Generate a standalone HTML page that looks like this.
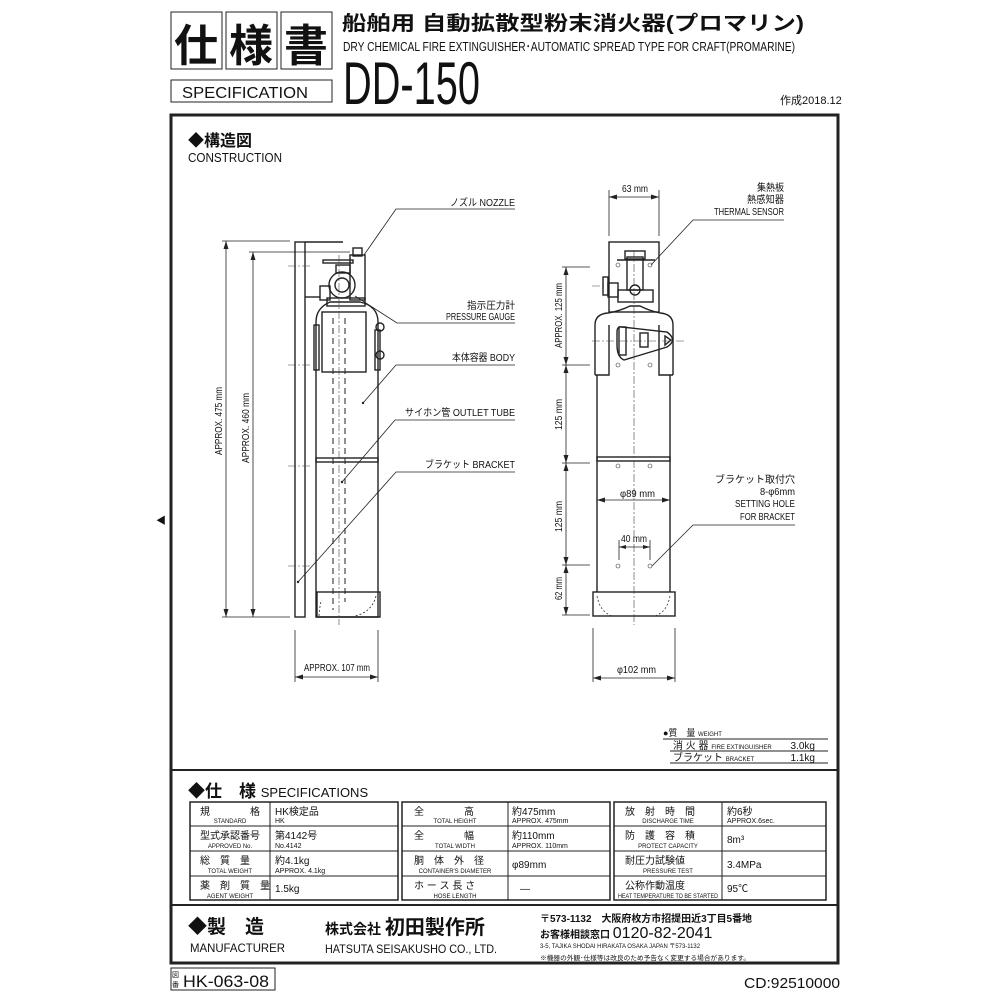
<!DOCTYPE html>
<html><head><meta charset="utf-8"><style>
html,body{margin:0;padding:0;background:#fff;}
svg{display:block;}
text{font-family:"Liberation Sans Narrow","Liberation Sans","Noto Sans CJK JP",sans-serif;fill:#111;}
.j{font-family:"Liberation Sans","Noto Sans CJK JP",sans-serif;}
</style></head><body>
<svg width="1000" height="1000" viewBox="0 0 1000 1000" xmlns="http://www.w3.org/2000/svg">
<g fill="none" stroke="#222">
<rect x="171" y="12" width="51" height="57" stroke-width="1"/>
<rect x="226" y="12" width="51" height="57" stroke-width="1"/>
<rect x="281" y="12" width="51" height="57" stroke-width="1"/>
<rect x="171" y="80" width="161" height="22" stroke-width="1"/>
<path d="M171 115 H838 V963 H171 Z" stroke-width="3"/>
<line x1="171" y1="770" x2="838" y2="770" stroke-width="2"/>
<line x1="171" y1="905" x2="838" y2="905" stroke-width="2"/>
<rect x="171" y="968" width="104" height="22" stroke-width="1"/>
</g>
<text x="196" y="61" font-size="44" class="j" text-anchor="middle" font-weight="bold">仕</text>
<text x="251" y="61" font-size="44" class="j" text-anchor="middle" font-weight="bold">様</text>
<text x="306" y="61" font-size="44" class="j" text-anchor="middle" font-weight="bold">書</text>
<text x="182" y="98" font-size="16" textLength="126" lengthAdjust="spacingAndGlyphs">SPECIFICATION</text>
<text x="342" y="30" font-size="20" class="j" font-weight="bold" textLength="462" lengthAdjust="spacingAndGlyphs">船舶用 自動拡散型粉末消火器(プロマリン)</text>
<text x="343" y="51" font-size="13" textLength="452" lengthAdjust="spacingAndGlyphs">DRY CHEMICAL FIRE EXTINGUISHER･AUTOMATIC SPREAD TYPE FOR CRAFT(PROMARINE)</text>
<text x="343" y="104" font-size="60" textLength="137" lengthAdjust="spacingAndGlyphs">DD-150</text>
<text x="780" y="104" font-size="11" class="j">作成2018.12</text>
<text x="156" y="524" font-size="10">◀</text>

<text x="188" y="146" font-size="16" class="j" font-weight="bold">◆構造図</text>
<text x="188" y="162" font-size="13" textLength="94" lengthAdjust="spacingAndGlyphs">CONSTRUCTION</text>

<!-- LEFT DRAWING -->
<g fill="none" stroke="#222" stroke-width="1.4">
<rect x="295" y="242" width="10" height="375"/>
<line x1="305" y1="242" x2="343" y2="242"/>
<line x1="305" y1="297" x2="320" y2="297"/>
<path d="M316 617 V322 Q316 308 330 302 H360 Q378 306 378 322 V617 Z"/>
<rect x="322" y="312" width="44" height="60"/>
<rect x="317" y="592" width="63" height="25"/>
<path d="M319 616 Q320 602 322 600" stroke-width="0.8" stroke-dasharray="2 2"/>
<path d="M376 596 Q372 612 355 616" stroke-width="0.8" stroke-dasharray="2 2"/>
<rect x="316" y="458" width="62" height="4"/>
<rect x="314" y="325" width="5" height="45"/>
<rect x="375" y="330" width="5" height="40"/>
<circle cx="380" cy="327" r="4"/><circle cx="380" cy="355" r="4"/>
<rect x="327" y="298" width="38" height="8"/>
<rect x="320" y="286" width="10" height="14"/>
<circle cx="342" cy="285" r="13"/>
<circle cx="342" cy="285" r="7"/>
<rect x="336" y="265" width="14" height="8"/>
<rect x="323" y="260" width="30" height="3"/>
<rect x="350" y="255" width="15" height="45"/>
<rect x="353" y="248" width="9" height="8"/>
</g>
<g stroke="#222" stroke-width="1" stroke-dasharray="6 4" fill="none">
<line x1="333" y1="318" x2="333" y2="610"/>
<line x1="345" y1="318" x2="345" y2="602"/>
</g>
<g stroke="#444" stroke-width="0.6" stroke-dasharray="8 2 2 2" fill="none">
<line x1="339" y1="255" x2="339" y2="625"/>
<line x1="288" y1="266" x2="310" y2="266"/>
<line x1="288" y1="365" x2="310" y2="365"/>
<line x1="288" y1="466" x2="310" y2="466"/>
<line x1="288" y1="566" x2="310" y2="566"/>
</g>
<g stroke="#222" stroke-width="0.8" fill="none">
<line x1="222" y1="241" x2="290" y2="241"/>
<line x1="249" y1="252" x2="350" y2="252"/>
<line x1="222" y1="617" x2="290" y2="617"/>
<line x1="226" y1="241" x2="226" y2="617"/>
<line x1="253" y1="252" x2="253" y2="617"/>
<line x1="295" y1="630" x2="295" y2="682"/>
<line x1="378" y1="630" x2="378" y2="682"/>
<line x1="295" y1="677" x2="378" y2="677"/>
</g>
<g fill="#222">
<path d="M226 241 l-2.5 8 h5z M226 617 l-2.5 -8 h5z M253 252 l-2.5 8 h5z M253 617 l-2.5 -8 h5z M295 677 l8 -2.5 v5z M378 677 l-8 -2.5 v5z"/>
</g>
<text transform="translate(222 455) rotate(-90)" font-size="10" textLength="68" lengthAdjust="spacingAndGlyphs">APPROX. 475 mm</text>
<text transform="translate(249 463) rotate(-90)" font-size="10" textLength="70" lengthAdjust="spacingAndGlyphs">APPROX. 460 mm</text>
<text x="304" y="671" font-size="10" textLength="66" lengthAdjust="spacingAndGlyphs">APPROX. 107 mm</text>
<g stroke="#222" stroke-width="0.8" fill="none">
<path d="M515 209 H396 L364 255"/>
<path d="M515 323 H397 L355 296"/>
<path d="M515 365 H396 L363 403"/>
<path d="M515 420 H395 L342 482"/>
<path d="M515 472 H396 L298 582"/>
</g>
<circle cx="363" cy="403" r="1.2" fill="#222"/><circle cx="342" cy="482" r="1.2" fill="#222"/><circle cx="298" cy="582" r="1.2" fill="#222"/>
<g font-size="10">
<text x="450" y="206" class="j" textLength="65" lengthAdjust="spacingAndGlyphs">ノズル NOZZLE</text>
<text x="467" y="309" class="j" textLength="48" lengthAdjust="spacingAndGlyphs">指示圧力計</text>
<text x="446" y="320" textLength="69" lengthAdjust="spacingAndGlyphs">PRESSURE GAUGE</text>
<text x="452" y="361" class="j" textLength="63" lengthAdjust="spacingAndGlyphs">本体容器 BODY</text>
<text x="405" y="416" class="j" textLength="110" lengthAdjust="spacingAndGlyphs">サイホン管 OUTLET TUBE</text>
<text x="425" y="468" class="j" textLength="90" lengthAdjust="spacingAndGlyphs">ブラケット BRACKET</text>
</g>

<!-- RIGHT DRAWING -->
<g fill="none" stroke="#222" stroke-width="1.4">
<rect x="609" y="242" width="50" height="70"/>
<path d="M595 375 V325 Q595 314 608 313 Q620 311 630 306 H640 Q650 311 660 313 Q673 314 673 325 V375"/>
<path d="M597 375 V592 M670 375 V592"/>
<path d="M595 375 H609 V325 M673 375 H659 V325"/>
<rect x="597" y="457" width="73" height="4"/>
<rect x="593" y="592" width="82" height="24"/>
<path d="M597 596 Q600 612 612 616 M670 596 Q667 612 655 616" stroke-width="0.7" stroke-dasharray="2 2"/>
<path d="M622 327 L667 332 Q678 340 667 347 L624 360 Q617 357 617 345 V332 Q617 326 622 327Z"/>
<rect x="640" y="333" width="8" height="14"/>
<path d="M665 336 L671 340 L665 345 Z"/>
<rect x="619" y="327" width="7" height="28"/>
<rect x="618" y="290" width="35" height="12"/>
<rect x="627" y="257" width="16" height="33"/>
<rect x="625" y="251" width="20" height="8"/>
<circle cx="635" cy="290" r="5"/>
<path d="M617 260 H655"/>
<rect x="603" y="277" width="5" height="18"/>
<rect x="608" y="283" width="10" height="14"/>
</g>
<g stroke="#444" stroke-width="0.6" stroke-dasharray="8 2 2 2" fill="none">
<line x1="634" y1="250" x2="634" y2="625"/>
<line x1="592" y1="341" x2="684" y2="341"/>
<line x1="592" y1="286" x2="605" y2="286"/>
</g>
<g stroke="#333" stroke-width="0.6" fill="none">
<circle cx="618" cy="265" r="2"/><circle cx="650" cy="265" r="2"/>
<circle cx="618" cy="365" r="2"/><circle cx="650" cy="365" r="2"/>
<circle cx="618" cy="466" r="2"/><circle cx="650" cy="466" r="2"/>
<circle cx="618" cy="566" r="2"/><circle cx="650" cy="566" r="2"/>
</g>
<g stroke="#222" stroke-width="0.8" fill="none">
<line x1="609" y1="190" x2="609" y2="236"/>
<line x1="659" y1="190" x2="659" y2="236"/>
<line x1="609" y1="197" x2="659" y2="197"/>
<line x1="566" y1="267" x2="566" y2="615"/>
<line x1="562" y1="267" x2="590" y2="267"/>
<line x1="562" y1="365" x2="590" y2="365"/>
<line x1="562" y1="463" x2="590" y2="463"/>
<line x1="562" y1="565" x2="590" y2="565"/>
<line x1="562" y1="615" x2="590" y2="615"/>
<line x1="597" y1="500" x2="670" y2="500"/>
<line x1="619" y1="540" x2="619" y2="560"/>
<line x1="650" y1="540" x2="650" y2="560"/>
<line x1="619" y1="547" x2="650" y2="547"/>
<line x1="593" y1="628" x2="593" y2="682"/>
<line x1="675" y1="628" x2="675" y2="682"/>
<line x1="593" y1="678" x2="675" y2="678"/>
</g>
<g fill="#222">
<path d="M609 197 l8 -2.5 v5z M659 197 l-8 -2.5 v5z M597 500 l8 -2.5 v5z M670 500 l-8 -2.5 v5z M619 547 l7 -2 v4z M650 547 l-7 -2 v4z M593 678 l8 -2.5 v5z M675 678 l-8 -2.5 v5z
M566 267 l-2.5 8 h5z M566 365 l-2.5 -8 h5z M566 365 l-2.5 8 h5z M566 463 l-2.5 -8 h5z M566 463 l-2.5 8 h5z M566 565 l-2.5 -8 h5z M566 565 l-2.5 8 h5z M566 615 l-2.5 -8 h5z"/>
</g>
<text x="622" y="192" font-size="10" textLength="26" lengthAdjust="spacingAndGlyphs">63 mm</text>
<text x="620" y="497" font-size="10" textLength="35" lengthAdjust="spacingAndGlyphs">φ89 mm</text>
<text x="621" y="542" font-size="10" textLength="26" lengthAdjust="spacingAndGlyphs">40 mm</text>
<text x="617" y="673" font-size="10" textLength="39" lengthAdjust="spacingAndGlyphs">φ102 mm</text>
<text transform="translate(562 348) rotate(-90)" font-size="10" textLength="65" lengthAdjust="spacingAndGlyphs">APPROX. 125 mm</text>
<text transform="translate(562 430) rotate(-90)" font-size="10" textLength="31" lengthAdjust="spacingAndGlyphs">125 mm</text>
<text transform="translate(562 532) rotate(-90)" font-size="10" textLength="31" lengthAdjust="spacingAndGlyphs">125 mm</text>
<text transform="translate(562 600) rotate(-90)" font-size="10" textLength="23" lengthAdjust="spacingAndGlyphs">62 mm</text>
<g stroke="#222" stroke-width="0.8" fill="none">
<path d="M784 220 H693 L651 265"/>
<path d="M795 525 H693 L652 566"/>
</g>
<g font-size="10">
<text x="757" y="191" class="j" textLength="27" lengthAdjust="spacingAndGlyphs">集熱板</text>
<text x="747" y="203" class="j" textLength="37" lengthAdjust="spacingAndGlyphs">熱感知器</text>
<text x="714" y="215" textLength="70" lengthAdjust="spacingAndGlyphs">THERMAL SENSOR</text>
<text x="715" y="483" class="j" textLength="80" lengthAdjust="spacingAndGlyphs">ブラケット取付穴</text>
<text x="760" y="495" textLength="35" lengthAdjust="spacingAndGlyphs">8-φ6mm</text>
<text x="735" y="507" textLength="60" lengthAdjust="spacingAndGlyphs">SETTING HOLE</text>
<text x="740" y="520" textLength="55" lengthAdjust="spacingAndGlyphs">FOR BRACKET</text>
</g>

<g stroke="#222" stroke-width="0.9">
<line x1="663" y1="739" x2="828" y2="739"/>
<line x1="670" y1="751" x2="828" y2="751"/>
<line x1="670" y1="763" x2="828" y2="763"/>
</g>
<text x="663" y="736" font-size="9" class="j">●質　量 <tspan font-size="6">WEIGHT</tspan></text>
<text x="673" y="749" font-size="10" class="j">消 火 器 <tspan font-size="6">FIRE EXTINGUISHER</tspan></text>
<text x="815" y="749" font-size="10" text-anchor="end">3.0kg</text>
<text x="673" y="761" font-size="10" class="j">ブラケット <tspan font-size="6">BRACKET</tspan></text>
<text x="815" y="761" font-size="10" text-anchor="end">1.1kg</text>

<text x="188" y="797" font-size="17" class="j" font-weight="bold">◆仕　様 <tspan font-size="13" font-weight="normal" font-family="Liberation Sans Narrow, Liberation Sans, sans-serif">SPECIFICATIONS</tspan></text>
<g fill="none" stroke="#222" stroke-width="1">
<rect x="190" y="802" width="208" height="98" stroke-width="1.5"/>
<rect x="402" y="802" width="208" height="98" stroke-width="1.5"/>
<rect x="614" y="802" width="212" height="98" stroke-width="1.5"/>
<line x1="270" y1="802" x2="270" y2="900"/><line x1="508" y1="802" x2="508" y2="900"/><line x1="722" y1="802" x2="722" y2="900"/>
<path d="M190 826 H398 M190 851 H398 M190 876 H398 M402 826 H610 M402 851 H610 M402 876 H610 M614 826 H826 M614 851 H826 M614 876 H826"/>
</g>
<g font-size="10" class="j">
<text x="200" y="815">規　　　　格</text>
<text x="275" y="815">HK検定品</text>
<text x="200" y="839">型式承認番号</text>
<text x="275" y="839">第4142号</text>
<text x="200" y="864">総　質　量</text>
<text x="275" y="864">約4.1kg</text>
<text x="200" y="889">薬　剤　質　量</text>
<text x="275" y="892">1.5kg</text>
<text x="414" y="815">全　　　　高</text>
<text x="512" y="815">約475mm</text>
<text x="414" y="839">全　　　　幅</text>
<text x="512" y="839">約110mm</text>
<text x="414" y="864">胴　体　外　径</text>
<text x="512" y="868">φ89mm</text>
<text x="414" y="889">ホ ー ス 長 さ</text>
<text x="520" y="892">—</text>
<text x="625" y="815">放　射　時　間</text>
<text x="727" y="815">約6秒</text>
<text x="625" y="839">防　護　容　積</text>
<text x="727" y="843">8m³</text>
<text x="625" y="864">耐圧力試験値</text>
<text x="727" y="868">3.4MPa</text>
<text x="625" y="889">公称作動温度</text>
<text x="727" y="892">95℃</text>
</g>
<g font-size="6" text-anchor="middle">
<text x="230" y="823">STANDARD</text><text x="230" y="848">APPROVED No.</text><text x="230" y="873">TOTAL WEIGHT</text><text x="230" y="898">AGENT WEIGHT</text>
<text x="455" y="823">TOTAL HEIGHT</text><text x="455" y="848">TOTAL WIDTH</text><text x="455" y="873">CONTAINER'S DIAMETER</text><text x="455" y="898">HOSE LENGTH</text>
<text x="668" y="823">DISCHARGE TIME</text><text x="668" y="848">PROTECT CAPACITY</text><text x="668" y="873">PRESSURE TEST</text><text x="668" y="898" textLength="100" lengthAdjust="spacingAndGlyphs">HEAT TEMPERATURE TO BE STARTED</text>
</g>
<g font-size="7">
<text x="275" y="823">HK</text><text x="275" y="848">No.4142</text><text x="275" y="873">APPROX. 4.1kg</text>
<text x="512" y="823">APPROX. 475mm</text><text x="512" y="848">APPROX. 110mm</text>
<text x="727" y="823">APPROX.6sec.</text>
</g>

<text x="188" y="933" font-size="19" class="j" font-weight="bold">◆製　造</text>
<text x="190" y="952" font-size="12" textLength="95" lengthAdjust="spacingAndGlyphs">MANUFACTURER</text>
<text x="325" y="934" font-size="14" class="j" font-weight="bold">株式会社 <tspan font-size="20">初田製作所</tspan></text>
<text x="325" y="953" font-size="12" textLength="172" lengthAdjust="spacingAndGlyphs">HATSUTA SEISAKUSHO CO., LTD.</text>
<text x="540" y="922" font-size="10" class="j" font-weight="bold" textLength="212" lengthAdjust="spacingAndGlyphs">〒573-1132　大阪府枚方市招提田近3丁目5番地</text>
<text x="540" y="938" font-size="10" class="j" font-weight="bold">お客様相談窓口 <tspan font-size="16" font-weight="normal" font-family="Liberation Sans Narrow, Liberation Sans, sans-serif">0120-82-2041</tspan></text>
<text x="540" y="948" font-size="6" textLength="160" lengthAdjust="spacingAndGlyphs">3-5, TAJIKA SHODAI HIRAKATA OSAKA JAPAN 〒573-1132</text>
<text x="540" y="960" font-size="6.5" class="j" textLength="210" lengthAdjust="spacingAndGlyphs">※機器の外観･仕様等は改良のため予告なく変更する場合があります。</text>

<text x="172" y="977" font-size="7" class="j">図</text><text x="172" y="987" font-size="7" class="j">番</text>
<text x="183" y="987" font-size="17" textLength="86" lengthAdjust="spacingAndGlyphs">HK-063-08</text>
<text x="840" y="988" font-size="15" text-anchor="end" textLength="96" lengthAdjust="spacingAndGlyphs">CD:92510000</text>
</svg>
</body></html>
